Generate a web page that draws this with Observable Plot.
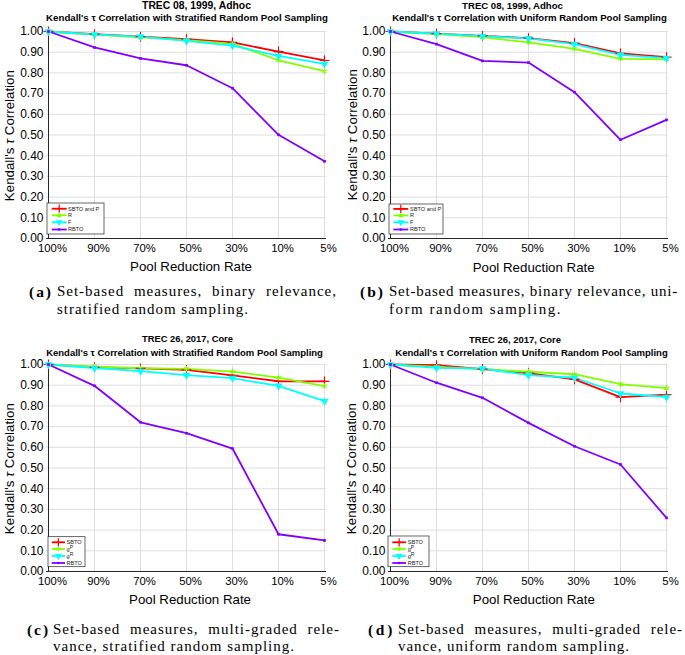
<!DOCTYPE html>
<html><head><meta charset="utf-8">
<script src="https://cdn.jsdelivr.net/npm/d3@7"></script>
<script src="https://cdn.jsdelivr.net/npm/@observablehq/plot@0.6"></script>
<style>
body{margin:0;background:#fff;}
#root{position:relative;width:685px;height:655px;overflow:hidden;font-family:"Liberation Sans",Arial,sans-serif;color:#000;}
#root div.t{position:absolute;white-space:nowrap;line-height:1;}
#root div.p{position:absolute;}
</style></head>
<body><div id="root"></div>
<script>
// ---------- data ----------
const rates = ["100%","90%","70%","50%","30%","10%","5%"];
const yTicks = [0,0.1,0.2,0.3,0.4,0.5,0.6,0.7,0.8,0.9,1.0];
const seriesBinary = ["SBTO and P","R","F","RBTO"];
const seriesGraded = ["SBTO","gP","gR","RBTO"];
const colors = ["#ff0000","#7fff00","#00ffff","#8000ff"];

// (a) TREC 08 stratified
const aSBTO = [1.000,0.987,0.975,0.963,0.947,0.903,0.860];
const aR    = [1.000,0.985,0.972,0.958,0.940,0.861,0.808];
const aF    = [1.000,0.985,0.975,0.955,0.932,0.882,0.844];
const aRBTO = [1.000,0.923,0.870,0.837,0.726,0.501,0.373];
// (b) TREC 08 uniform
const bSBTO = [1.000,0.990,0.979,0.968,0.944,0.894,0.876];
const bR    = [1.000,0.987,0.973,0.947,0.916,0.868,0.865];
const bF    = [1.000,0.990,0.978,0.967,0.939,0.887,0.871];
const bRBTO = [1.000,0.939,0.858,0.850,0.707,0.477,0.573];
// (c) TREC 26 stratified
const cSBTO = [1.000,0.987,0.981,0.974,0.947,0.919,0.918];
const cgP   = [1.000,0.990,0.982,0.979,0.966,0.937,0.895];
const cgR   = [1.000,0.983,0.968,0.949,0.934,0.897,0.823];
const cRBTO = [1.000,0.897,0.721,0.668,0.594,0.180,0.150];
// (d) TREC 26 uniform
const dSBTO = [1.000,0.997,0.978,0.958,0.928,0.842,0.854];
const dgP   = [1.000,0.989,0.978,0.965,0.953,0.905,0.886];
const dgR   = [1.000,0.984,0.980,0.949,0.936,0.860,0.843];
const dRBTO = [1.000,0.912,0.839,0.718,0.605,0.517,0.259];

const titlesTop = ["TREC 08, 1999, Adhoc","TREC 08, 1999, Adhoc","TREC 26, 2017, Core","TREC 26, 2017, Core"];
const titlesSub = [
  "Kendall's \u03C4 Correlation with Stratified Random Pool Sampling",
  "Kendall's \u03C4 Correlation with Uniform Random Pool Sampling",
  "Kendall's \u03C4 Correlation with Stratified Random Pool Sampling",
  "Kendall's \u03C4 Correlation with Uniform Random Pool Sampling"];
const yLabel = "Kendall's <i>\u03C4</i> Correlation";
const xLabel = "Pool Reduction Rate";
const capLabels = ["(a)","(b)","(c)","(d)"];
const capLine1 = ["Set-based measures, binary relevance,","Set-based measures, binary relevance, uni-","Set-based measures, multi-graded rele-","Set-based measures, multi-graded rele-"];
const capLine2 = ["stratified random sampling.","form random sampling.","vance, stratified random sampling.","vance, uniform random sampling."];

// ---------- layout ----------
const panels = [
 {left:0, x0:46, x1:326, y1:31, y0:238, series:seriesBinary, values:[aSBTO,aR,aF,aRBTO],
  t1:[196.5,6,109], t2:[187,17.5,282], ylab:[9,135.5], xlab:[191,267],
  leg:{box:[47,203,104,234], ys:[208.7,215.3,222.3,229.5], lx:[51.7,66.7], tx:68},
  cap:{lx:29, lw:24, x0:57, x1:337, y1:291.7, y2:309, l2w:192}},
 {left:342, x0:388, x1:668, y1:31, y0:238, series:seriesBinary, values:[bSBTO,bR,bF,bRBTO],
  t1:[512.5,6,101], t2:[529.5,17.5,275], ylab:[352,135], xlab:[533.7,267.3],
  leg:{box:[389,204,443,234], ys:[208.9,215.4,222.3,229.5], lx:[393.3,408.3], tx:410},
  cap:{lx:360, lw:25, x0:389, x1:678, y1:291.7, y2:309, l2w:173}},
 {left:0, x0:46, x1:326, y1:364, y0:571, series:seriesGraded, values:[cSBTO,cgP,cgR,cRBTO],
  t1:[187.5,340,91], t2:[184.5,353,277], ylab:[9,469], xlab:[190,600],
  leg:{box:[48,536.7,85,566.7], ys:[542.3,549,556,563], lx:[51.7,65], tx:66.5},
  cap:{lx:27, lw:23, x0:53, x1:340, y1:629.3, y2:646.7, l2w:242}},
 {left:342, x0:388, x1:668, y1:364, y0:571, series:seriesGraded, values:[dSBTO,dgP,dgR,dRBTO],
  t1:[515,340,92], t2:[531.5,353,273], ylab:[351,469], xlab:[533.8,599.3],
  leg:{box:[388,536,429,566.7], ys:[542.3,549,556,563], lx:[392.3,406], tx:407.7},
  cap:{lx:368, lw:27, x0:398, x1:683, y1:629.3, y2:646.7, l2w:232}}
];

const root = document.getElementById("root");

function addText(html, cx, cy, style, targetW, rotate){
  const el = document.createElement("div");
  el.className = "t";
  el.innerHTML = html;
  Object.assign(el.style, style);
  root.appendChild(el);
  if (targetW){
    const w = el.getBoundingClientRect().width;
    const fs = parseFloat(el.style.fontSize);
    el.style.fontSize = (fs*targetW/w) + "px";
  }
  const r = el.getBoundingClientRect();
  el.style.left = (cx - r.width/2) + "px";
  el.style.top = (cy - r.height/2) + "px";
  if (rotate) el.style.transform = "rotate(-90deg)";
  return el;
}

const markerSpec = [
  {symbol:"plus", r:3.3, kind:"stroke", sw:1.2},
  {symbol:"asterisk", r:2.6, kind:"stroke", sw:1.1},
  {symbol:"triangle", r:3.0, kind:"fill", rotate:180},
  {symbol:"square", r:1.5, kind:"fill"}
];

panels.forEach((cfg, pi) => {
  const top = cfg.y1 - 31;
  const W = 340, H = cfg.y0 - top + 22;
  const rows = cfg.series.flatMap((name,i) => rates.map((r,j) => ({rate:r, value:cfg.values[i][j], series:name})));
  const dots = cfg.series.map((name,i) => {
    const m = markerSpec[i];
    const o = {x:"rate", y:"value", symbol:m.symbol, r:m.r};
    if (m.kind === "stroke"){ o.stroke = colors[i]; o.strokeWidth = m.sw; o.fill = "none"; }
    else { o.fill = colors[i]; o.stroke = "none"; }
    if (m.rotate) o.rotate = m.rotate;
    return Plot.dot(rows.filter(d => d.series === name), o);
  });
  const plot = Plot.plot({
    width: W, height: H,
    marginLeft: cfg.x0 - cfg.left, marginRight: cfg.left + W - cfg.x1,
    marginTop: 31, marginBottom: 22,
    style: {fontFamily:"Liberation Sans, Arial, sans-serif", color:"#000", overflow:"visible", maxWidth:"none", background:"transparent"},
    x: {type:"point", domain: rates, padding: 0},
    y: {domain:[0,1]},
    color: {domain: cfg.series, range: colors},
    marks: [
      Plot.gridY(yTicks, {stroke:"#dedede", strokeOpacity:1}),
      Plot.gridX(rates, {stroke:"#dedede", strokeOpacity:1}),
      Plot.axisY(yTicks, {tickFormat:d3.format(".2f"), tickSize:0, tickPadding:3, fontSize:12, label:null}),
      Plot.axisX(rates, {tickSize:0, tickPadding:5, fontSize:11.3, dx:4, label:null}),
      Plot.ruleX([rates[0]], {stroke:"#262626", strokeWidth:1}),
      Plot.ruleY([0], {stroke:"#262626", strokeWidth:1}),
      Plot.line(rows, {x:"rate", y:"value", z:"series", stroke:"series", strokeWidth:1.8}),
      ...dots
    ]
  });
  const wrap = document.createElement("div");
  wrap.className = "p";
  wrap.style.left = cfg.left + "px";
  wrap.style.top = top + "px";
  wrap.appendChild(plot);
  root.appendChild(wrap);

  // legend
  const L = cfg.leg, ox = cfg.left, oy = top;
  const g = d3.select(plot).append("g").attr("transform", `translate(${-ox},${-oy})`)
    .attr("text-anchor", "start");
  g.append("rect").attr("x", L.box[0]).attr("y", L.box[1])
    .attr("width", L.box[2]-L.box[0]).attr("height", L.box[3]-L.box[1])
    .attr("fill", "#fff").attr("stroke", "#262626").attr("stroke-width", 0.7);
  const symMap = {plus:d3.symbolPlus, asterisk:d3.symbolAsterisk, triangle:d3.symbolTriangle, square:d3.symbolSquare};
  cfg.series.forEach((name,i) => {
    const y = L.ys[i];
    g.append("line").attr("x1", L.lx[0]).attr("x2", L.lx[1]).attr("y1", y).attr("y2", y)
      .attr("stroke", colors[i]).attr("stroke-width", 1.8);
    const m = markerSpec[i];
    const cx = (L.lx[0]+L.lx[1])/2;
    const rr = m.r * 0.85;
    const p = g.append("path").attr("d", d3.symbol(symMap[m.symbol], Math.PI*rr*rr)())
      .attr("transform", `translate(${cx},${y})` + (m.rotate ? ` rotate(${m.rotate})` : ""));
    if (m.kind === "stroke") p.attr("fill","none").attr("stroke", colors[i]).attr("stroke-width", m.sw);
    else p.attr("fill", colors[i]);
    const t = g.append("text").attr("x", L.tx).attr("y", y).attr("dy","0.35em")
      .attr("text-anchor","start").attr("font-size", 5.6).attr("fill", "#222");
    if (name.length === 2 && name[0] === "g"){
      t.append("tspan").text("g");
      t.append("tspan").attr("dy","-1.6").attr("font-size",5).text(name[1]);
    } else t.text(name);
  });

  // titles
  addText(titlesTop[pi], cfg.t1[0], cfg.t1[1], {fontSize:"9px", fontWeight:"bold"}, cfg.t1[2]);
  addText(titlesSub[pi], cfg.t2[0], cfg.t2[1], {fontSize:"9px", fontWeight:"bold"}, cfg.t2[2]);
  // axis labels
  addText(yLabel, cfg.ylab[0], cfg.ylab[1], {fontSize:"13.3px"}, null, true);
  addText(xLabel, cfg.xlab[0], cfg.xlab[1], {fontSize:"13.3px"});

  // caption
  const C = cfg.cap;
  const serif = '"Liberation Serif","Times New Roman",serif';
  const l2 = document.createElement("div");
  l2.className = "t";
  l2.textContent = capLine2[pi];
  Object.assign(l2.style, {fontFamily:serif, fontSize:"15px"});
  root.appendChild(l2);
  const w2 = l2.getBoundingClientRect().width;
  const ls = (C.l2w - w2) / capLine2[pi].length;
  l2.style.letterSpacing = ls + "px";
  const h2 = l2.getBoundingClientRect().height;
  l2.style.left = C.x0 + "px";
  l2.style.top = (C.y2 - h2/2) + "px";

  const l1 = document.createElement("div");
  l1.className = "t";
  l1.textContent = capLine1[pi];
  Object.assign(l1.style, {fontFamily:serif, fontSize:"15px", letterSpacing: ls+"px"});
  root.appendChild(l1);
  const w1 = l1.getBoundingClientRect().width;
  const nSpaces = capLine1[pi].split(" ").length - 1;
  let target1 = C.x1 - C.x0;
  let ws = (target1 - w1) / nSpaces;
  if (ws < 0) {
    l1.style.letterSpacing = (ls + (target1 - w1)/capLine1[pi].length) + "px";
    ws = 0;
  }
  l1.style.wordSpacing = ws + "px";
  l1.style.left = C.x0 + "px";
  l1.style.top = (C.y1 - h2/2) + "px";

  const lb = document.createElement("div");
  lb.className = "t";
  lb.textContent = capLabels[pi];
  Object.assign(lb.style, {fontFamily:serif, fontSize:"15.5px", fontWeight:"bold"});
  root.appendChild(lb);
  const wl = lb.getBoundingClientRect().width;
  lb.style.letterSpacing = ((C.lw - wl)/3) + "px";
  lb.style.left = C.lx + "px";
  lb.style.top = (C.y1 - h2/2) + "px";
});
</script>
</body></html>
